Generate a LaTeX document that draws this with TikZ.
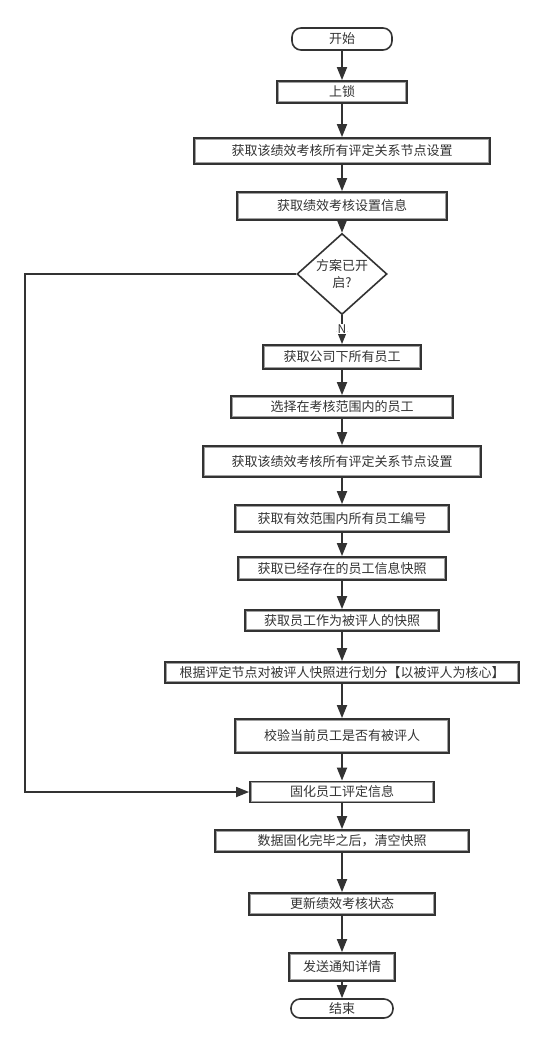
\documentclass[tikz,border=0pt]{standalone}
\usepackage{fontspec}
\newfontfamily\cjk{Noto Sans CJK SC}
\usetikzlibrary{shapes.geometric,arrows.meta}
\definecolor{ink}{HTML}{333333}
\definecolor{innerline}{HTML}{A0A0A0}
\begin{document}
\begin{tikzpicture}[x=1pt,y=-1pt,
  every node/.style={font=\cjk\fontsize{13}{17}\selectfont, text=ink},
  proc/.style n args={2}{draw=ink, line width=1.8pt, inner sep=0pt,
    minimum width=#1pt, minimum height=#2pt,
    path picture={\draw[innerline,line width=0.9pt]
      ([shift={(1.4pt,-1.4pt)}]path picture bounding box.north west) rectangle
      ([shift={(-1.4pt,1.4pt)}]path picture bounding box.south east);}},
  term/.style n args={2}{draw=ink, line width=1.6pt, rounded corners=9pt,
    inner sep=0pt, minimum width=#1pt, minimum height=#2pt},
  decision/.style={draw=ink, line width=1.6pt, diamond, inner sep=0pt,
    minimum width=90pt, minimum height=66pt, align=center},
  arr/.style={draw=ink, line width=1.8pt, -{Triangle[length=13pt,width=10pt]}},
  lbl/.style={font=\cjk\fontsize{12}{12}\selectfont, inner sep=0.6pt, fill=white}
]
\useasboundingbox (0,0) rectangle (543,1044);

\node[term={100}{22}] (start) at (342,39) {开始};
\node[proc={130}{22}] (b2) at (342,92) {上锁};
\node[proc={296}{26}] (b3) at (342,151) {获取该绩效考核所有评定关系节点设置};
\node[proc={210}{28}] (b4) at (342,206) {获取绩效考核设置信息};
\node[decision] (d) at (342,274) {方案已开\\启?};
\node[proc={158}{24}] (b6) at (342,357) {获取公司下所有员工};
\node[proc={222}{22}] (b7) at (342,407) {选择在考核范围内的员工};
\node[proc={278}{31}] (b8) at (342,461.5) {获取该绩效考核所有评定关系节点设置};
\node[proc={214}{27}] (b9) at (342,518.5) {获取有效范围内所有员工编号};
\node[proc={208}{23}] (b10) at (342,568.5) {获取已经存在的员工信息快照};
\node[proc={194}{21}] (b11) at (342,620.5) {获取员工作为被评人的快照};
\node[proc={354}{21}] (b12) at (342,672.5) {根据评定节点对被评人快照进行划分【以被评人为核心】};
\node[proc={214}{34}] (b13) at (342,736) {校验当前员工是否有被评人};
\node[proc={184}{21}] (b14) at (342,792) {固化员工评定信息};
\node[proc={254}{22}] (b15) at (342,841) {数据固化完毕之后，清空快照};
\node[proc={186}{22}] (b16) at (342,904) {更新绩效考核状态};
\node[proc={106}{28}] (b17) at (342,967) {发送通知详情};
\node[term={102}{19}] (end) at (342,1008.5) {结束};

\coordinate (L) at (25,0);

\draw[arr] (start) -- (b2);
\draw[arr] (b2) -- (b3);
\draw[arr] (b3) -- (b4);
\draw[arr] (b4) -- (d);
\draw[arr] (d.south) -- (b6.north);
\node[lbl] (n) at (342,329) {N};
\draw[arr] (b6) -- (b7);
\draw[arr] (b7) -- (b8);
\draw[arr] (b8) -- (b9);
\draw[arr] (b9) -- (b10);
\draw[arr] (b10) -- (b11);
\draw[arr] (b11) -- (b12);
\draw[arr] (b12) -- (b13);
\draw[arr] (b13) -- (b14);
\draw[arr] (b14) -- (b15);
\draw[arr] (b15) -- (b16);
\draw[arr] (b16) -- (b17);
\draw[arr] (b17) -- (end);
\draw[arr] (d.west) -- (d.west -| L) |- (b14.west);
\end{tikzpicture}
\end{document}
